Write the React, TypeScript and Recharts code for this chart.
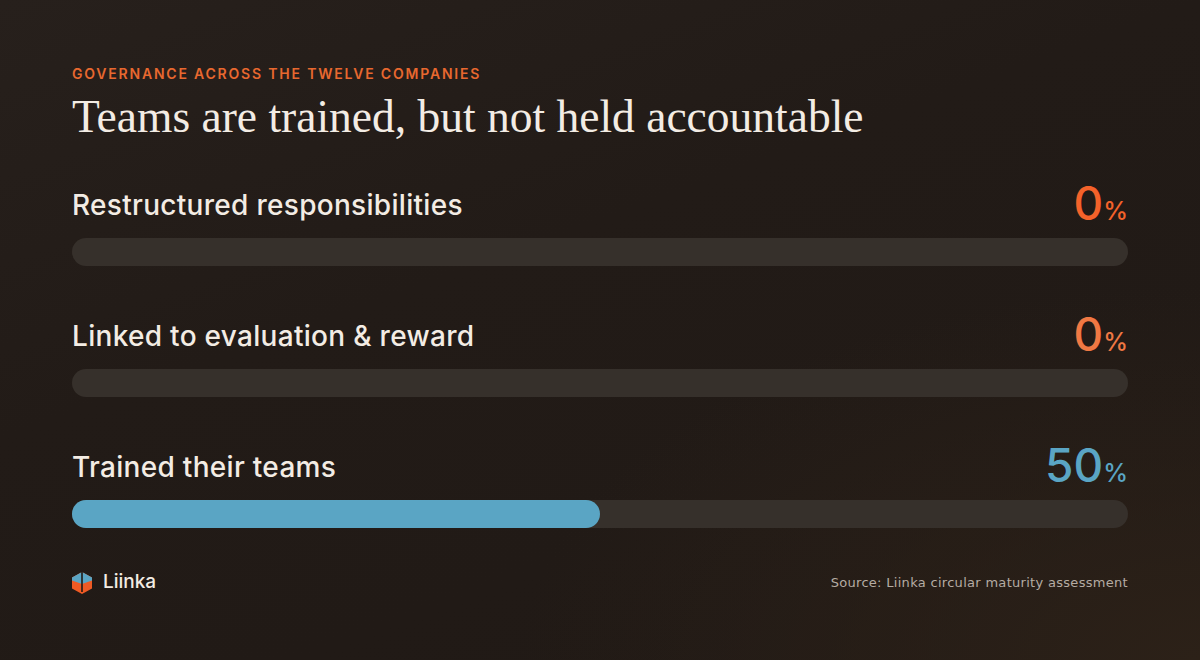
import React from 'react';
import { BarChart, Bar, XAxis, YAxis, LabelList } from 'recharts';

const categories = [
  'Restructured responsibilities',
  'Linked to evaluation & reward',
  'Trained their teams',
];
const shares = [0, 0, 50];
const domainMax = 100;

const W = 1200;
const H = 660;
const PAD_X = 72;
const BAR = 28;
const valueColors = ['#f4622a', '#f07843', '#5aa5c4'];

// track = full scale, drawn behind the share bar
const data = categories.map((name, i) => ({ name, share: shares[i], track: domainMax }));

const sans = 'Inter, "Noto Sans", sans-serif';

const RowLabel = ({ viewBox, index }: any) => {
  const { x, y, width } = viewBox;
  const labelY = y - 33;
  return (
    <g>
      <text
        x={x}
        y={labelY}
        dominantBaseline="central"
        fill="#f3ece4"
        fontFamily={sans}
        fontSize={28}
        fontWeight={500}
        letterSpacing={0.3}
      >
        {categories[index]}
      </text>
      <text x={x + width} y={labelY + 15} textAnchor="end" fill={valueColors[index]} fontFamily={sans} fontWeight={500}>
        <tspan fontSize={46}>{shares[index]}</tspan>
        <tspan fontSize={25}>%</tspan>
      </text>
    </g>
  );
};

const Logo = () => (
  <svg width={22} height={24} viewBox="0 0 22 24" style={{ position: 'absolute', left: 71, top: 571 }}>
    <polygon points="11,1 21,6.5 21,17.5 11,23 1,17.5 1,6.5" fill="#ef5a24" />
    <polygon points="11,1 21,6.5 21,9.5 11,13 1,9.5 1,6.5" fill="#5aa5c4" />
    <line x1={11} y1={1} x2={11} y2={21} stroke="#201915" strokeWidth={1.6} />
  </svg>
);

export default function App() {
  return (
    <div
      style={{
        position: 'fixed',
        left: 0,
        top: 0,
        width: W,
        height: H,
        overflow: 'hidden',
        background:
          'radial-gradient(ellipse at 100% 100%, #2c2118 0%, rgba(33,26,22,0) 40%), linear-gradient(160deg, #27201c 0%, #221b17 40%, #201915 100%)',
        fontFamily: sans,
      }}
    >
      <div
        style={{
          position: 'absolute',
          left: PAD_X,
          top: 65,
          color: '#e8682f',
          fontSize: 14,
          fontWeight: 600,
          letterSpacing: 1.8,
        }}
      >
        GOVERNANCE ACROSS THE TWELVE COMPANIES
      </div>
      <div
        style={{
          position: 'absolute',
          left: PAD_X,
          top: 90,
          color: '#f3ece4',
          fontSize: 45.5,
          fontFamily: '"Liberation Serif", "DejaVu Serif", serif',
          whiteSpace: 'nowrap',
        }}
      >
        Teams are trained, but not held accountable
      </div>

      <div style={{ position: 'absolute', left: 0, top: 0 }}>
        <BarChart
          width={W}
          height={H}
          data={data}
          layout="vertical"
          margin={{ top: 186, right: PAD_X, bottom: 81, left: PAD_X }}
          barSize={BAR}
          barGap={-BAR}
        >
          <XAxis type="number" domain={[0, domainMax]} hide />
          <YAxis type="category" dataKey="name" hide />
          <Bar dataKey="track" fill="#36302b" radius={14} isAnimationActive={false}>
            <LabelList dataKey="name" content={<RowLabel />} />
          </Bar>
          <Bar dataKey="share" fill="#5aa5c4" radius={14} isAnimationActive={false} />
        </BarChart>
      </div>

      <Logo />
      <div style={{ position: 'absolute', left: 103, top: 570, color: '#f3ece4', fontSize: 19, fontWeight: 500 }}>
        Liinka
      </div>
      <div
        style={{
          position: 'absolute',
          right: PAD_X,
          top: 575,
          color: '#b5aca3',
          fontSize: 13,
          letterSpacing: 0.3,
          fontFamily: '"DejaVu Sans", sans-serif',
        }}
      >
        Source: Liinka circular maturity assessment
      </div>
    </div>
  );
}
